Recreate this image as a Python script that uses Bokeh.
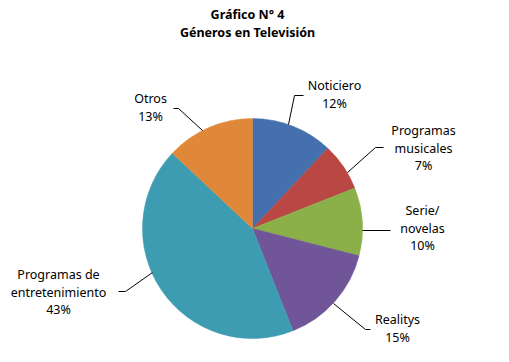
import math
from bokeh.plotting import figure
from bokeh.models import Range1d, ColumnDataSource
from bokeh.core.properties import value
from bokeh.embed import file_html
from bokeh.resources import INLINE

# ---- data ----
categories = ["Noticiero", "Programas musicales", "Serie/novelas", "Realitys",
              "Programas de entretenimiento", "Otros"]
percents = [12, 7, 10, 15, 43, 13]
label_lines = [["Noticiero", "12%"],
               ["Programas", "musicales", "7%"],
               ["Serie/", "novelas", "10%"],
               ["Realitys", "15%"],
               ["Programas de", "entretenimiento", "43%"],
               ["Otros", "13%"]]
colors = ["#4470AE", "#B94743", "#8CB049", "#705598", "#3E9CB2", "#E0883A"]
title_lines = ["Gráfico N° 4", "Géneros en Televisión"]

# ---- layout (page pixel coordinates, y measured from top of window) ----
W, H = 509, 362
cx, cy, r = 252, 228, 110
label_pos = [(334, 85), (423, 130), (422, 210), (397, 319), (58, 274), (150, 98)]
line_h = 17.5
leaders = [
    [(288, 124), (294, 95), (303, 95)],
    [(347, 172), (375, 147), (383, 147)],
    [(362, 230), (390, 230)],
    [(333, 303), (365, 329), (370, 329)],
    [(152, 272), (125, 291), (118, 291)],
    [(202, 130), (178, 108), (173, 108)],
]

def Y(py):
    return H - py

p = figure(width=493, height=346, output_backend="svg", toolbar_location=None,
           x_range=Range1d(0, 493), y_range=Range1d(Y(346), Y(0)),
           min_border=0)
p.axis.visible = False
p.grid.visible = False
p.outline_line_color = None
p.background_fill_color = "white"

total = sum(percents)
starts, ends = [], []
acc = 0.0
for v in percents:
    a0 = math.pi / 2 - 2 * math.pi * acc / total
    acc += v
    a1 = math.pi / 2 - 2 * math.pi * acc / total
    starts.append(a0)
    ends.append(a1)

src = ColumnDataSource(dict(start=starts, end=ends, color=colors, cat=categories))
p.wedge(x=cx, y=Y(cy), radius=r, start_angle="start", end_angle="end",
        direction="clock", fill_color="color", line_color="color", line_width=0.5,
        source=src)

# leader lines
for pts in leaders:
    p.line([q[0] for q in pts], [Y(q[1]) for q in pts], line_color="#000000",
           line_width=1)

# labels
tx, ty, tt = [], [], []
for (lx, ly), lines in zip(label_pos, label_lines):
    for i, s in enumerate(lines):
        tx.append(lx)
        ty.append(Y(ly + i * line_h))
        tt.append(s)
p.text(x=tx, y=ty, text=tt, text_align="center", text_baseline="middle",
       text_font=value("Noto Sans"), text_font_size="12.5px", text_color="#000000")

# title
p.text(x=[247, 247], y=[Y(14), Y(32)], text=title_lines, text_align="center",
       text_baseline="middle", text_font=value("Noto Sans"), text_font_size="12.5px",
       text_font_style="bold", text_color="#000000")

open("out.html", "w").write(file_html(p, INLINE))
